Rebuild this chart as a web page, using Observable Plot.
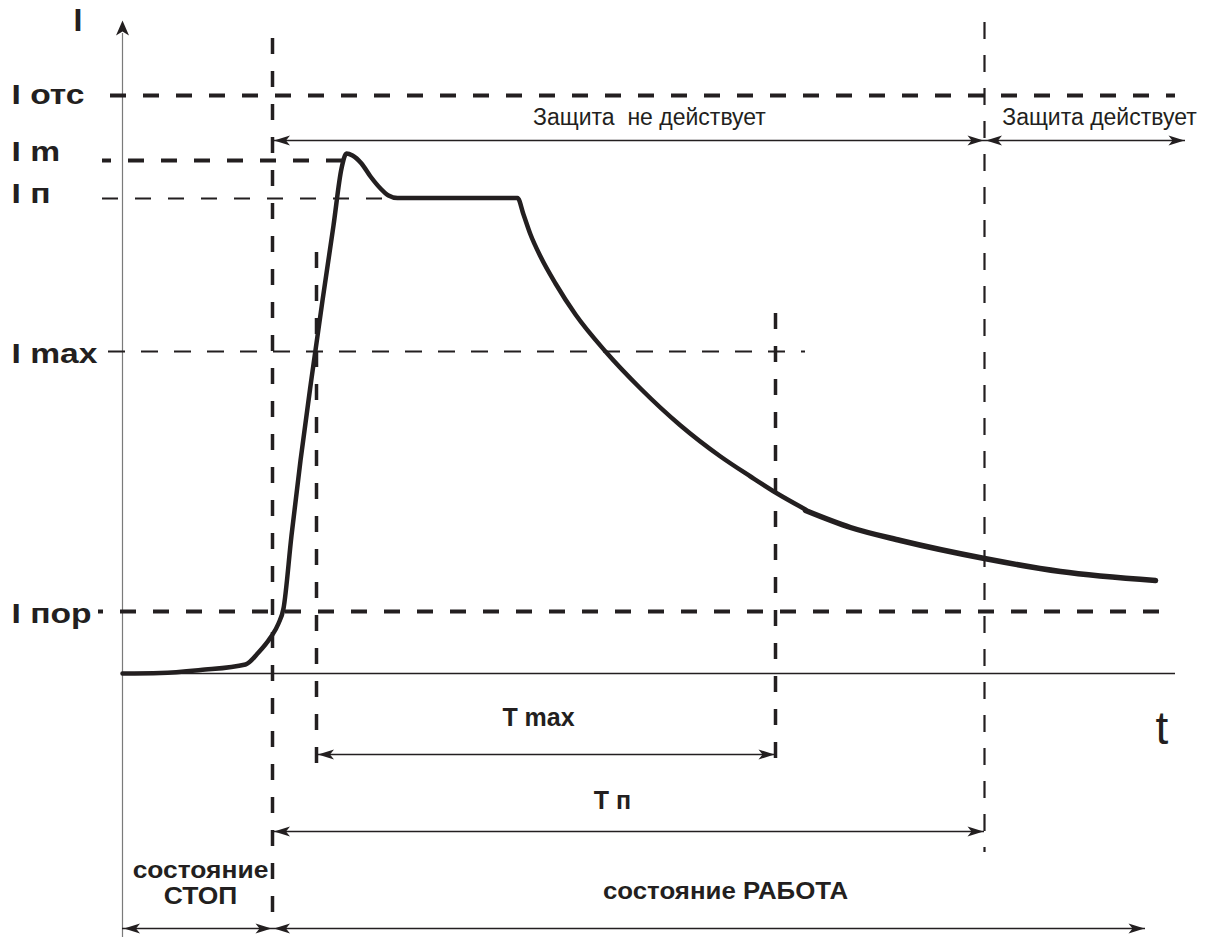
<!DOCTYPE html>
<html><head><meta charset="utf-8">
<script src="https://cdn.jsdelivr.net/npm/d3@7"></script>
<script src="https://cdn.jsdelivr.net/npm/@observablehq/plot@0.6"></script>
<style>body{margin:0;background:#fff} #chart{width:1210px;height:940px}</style>
</head><body><div id="chart"></div>
<script>
// ---- data (t in arbitrary time units, I in arbitrary current units) ----
const levelNames  = ["I отс", "I m", "I п", "I max", "I пор"];
const levelValues = [57.8, 51.3, 47.5, 32.2, 6.2];
const levelFrom   = [-1.2, -2.0, -2.0, -1.4, -2.4];
const levelTo     = [105.3, 22.3, 27.3, 68.3, 103.8];

const timeNames  = ["пуск", "t max старт", "t max конец", "t п конец"];
const timeValues = [15.0, 19.4, 65.3, 86.2];
const timeFrom   = [63.5, 42.1, 36.0, 65.1];
const timeTo     = [-25.2, -10.2, -9.9, -17.9];

// current curve: start + rise + peak + plateau + decay
const rampT = [0, 3.8, 7.8, 12.3, 13.6, 14.8, 15.6, 16.1, 16.9, 17.8, 18.9, 20.0, 21.1, 21.9, 22.4, 23.0, 23.9, 24.8, 25.8, 26.6, 27.5, 32.8, 39.5, 40.1, 40.8, 41.8, 43.3, 45.3, 48.3, 51.8, 55.8, 59.8, 62.8, 65.3, 68.3];
const rampI = [0, 0.05, 0.35, 0.9, 2.1, 3.6, 5.0, 6.5, 13.8, 21.3, 29.5, 37.3, 44.8, 50.5, 52.0, 51.8, 51.0, 49.7, 48.5, 47.8, 47.55, 47.55, 47.55, 45.9, 43.9, 41.7, 39.0, 35.9, 32.2, 28.5, 24.8, 21.7, 19.7, 18.1, 16.4];
// tail after T max
const tailT = [68.3, 72.8, 77.8, 86.2, 93.8, 103.3];
const tailI = [16.3, 14.6, 13.3, 11.5, 10.2, 9.3];

// dimension arrows
const spanNames = ["Защита  не действует", "Защита действует", "T max", "T п", "состояние\nСТОП", "состояние РАБОТА"];
const spanFrom  = [15.0, 86.2, 19.4, 15.0, 0, 15.0];
const spanTo    = [86.2, 106.3, 65.3, 86.2, 15.0, 102.3];
const spanLevel = [53.3, 53.3, -8.1, -15.8, -25.5, -25.5];
const spanLabelT = [52.7, 97.7, 41.6, 49.0, 7.8, 60.3];
const spanLabelI = [54.9, 54.9, -5.2, -13.5, -23.0, -22.5];

// axis labels
const axisLabels = ["I", "t"];
const axisLabelT = [-4.9, 103.3];
const axisLabelI = [64.3, -7.0];
const levelLabelT = -11.1;

// ---- build tables ----
const ink = "#231f20";
const levels = levelNames.map((name, i) => ({name, I: levelValues[i], t1: levelFrom[i], t2: levelTo[i]}));
const times = timeNames.map((name, i) => ({name, t: timeValues[i], i1: timeFrom[i], i2: timeTo[i]}));
const ramp = rampT.map((t, i) => ({t, I: rampI[i]}));
const tail = tailT.map((t, i) => ({t, I: tailI[i]}));
const spans = spanNames.map((name, i) => ({name, t1: spanFrom[i], t2: spanTo[i], I: spanLevel[i], lt: spanLabelT[i], li: spanLabelI[i]}));

const arrowRight = {draw(c) { c.moveTo(0, 0); c.lineTo(-16, -5); c.lineTo(-12, 0); c.lineTo(-16, 5); c.closePath(); }};
const arrowLeft  = {draw(c) { c.moveTo(0, 0); c.lineTo(16, -5); c.lineTo(12, 0); c.lineTo(16, 5); c.closePath(); }};
const arrowUp    = {draw(c) { c.moveTo(0, 0); c.lineTo(-6.5, 15); c.lineTo(0, 11); c.lineTo(6.5, 15); c.closePath(); }};

// dashed guide styles per line
const levelStyle = [
  {w: 3.8, dash: "16,17", off: 0},
  {w: 3.8, dash: "16,17", off: 7},
  {w: 2.2, dash: "16,17", off: 0},
  {w: 2.2, dash: "17,16", off: 0},
  {w: 3.8, dash: "16,17", off: 11}
];
const timeStyle = [
  {w: 3.5, dash: "16,17", off: 0},
  {w: 3.5, dash: "16,17", off: 0},
  {w: 3.5, dash: "16,17", off: 0},
  {w: 2.2, dash: "17,16", off: 0}
];

const marks = [];
// axes
marks.push(Plot.ruleX([0], {x: d => d, y1: 64.0, y2: -26.4, stroke: "#7a7a7a", strokeWidth: 1.2}));
marks.push(Plot.ruleY([0], {y: d => d, x1: 0, x2: 105.3, stroke: ink, strokeWidth: 1.6}));
marks.push(Plot.dot([{t: 0, I: 65.3}], {x: "t", y: "I", symbol: arrowUp, fill: ink, stroke: "none"}));

// guides
levels.forEach((d, i) => marks.push(Plot.ruleY([d], {y: "I", x1: "t1", x2: "t2", stroke: ink, strokeWidth: levelStyle[i].w, strokeDasharray: levelStyle[i].dash, strokeDashoffset: levelStyle[i].off})));
times.forEach((d, i) => marks.push(Plot.ruleX([d], {x: "t", y1: "i1", y2: "i2", stroke: ink, strokeWidth: timeStyle[i].w, strokeDasharray: timeStyle[i].dash, strokeDashoffset: timeStyle[i].off})));

// curve
marks.push(Plot.line(ramp, {x: "t", y: "I", curve: "monotone-x", stroke: ink, strokeWidth: 4.5, strokeLinejoin: "round"}));
marks.push(Plot.line(tail, {x: "t", y: "I", curve: "monotone-x", stroke: ink, strokeWidth: 5.5, strokeLinejoin: "round"}));

// dimension arrows
marks.push(Plot.ruleY(spans, {y: "I", x1: "t1", x2: "t2", stroke: ink, strokeWidth: 1.3}));
marks.push(Plot.dot(spans, {x: "t1", y: "I", symbol: arrowLeft, fill: ink, stroke: "none", dx: 1.5}));
marks.push(Plot.dot(spans, {x: "t2", y: "I", symbol: arrowRight, fill: ink, stroke: "none", dx: -1}));

// span labels
const spanFont = [23, 23, 25, 25, 24, 23.5];
const spanBold = [400, 400, 700, 700, 700, 700];
spans.forEach((d, i) => marks.push(Plot.text([d], {x: "lt", y: "li", text: "name", fontSize: spanFont[i], fontWeight: spanBold[i], fill: ink, textAnchor: "middle", lineAnchor: "bottom", lineHeight: 1.08})));

// level labels
const levelDy = [0, -8, -4, 3, 3];
levels.forEach((d, i) => marks.push(Plot.text([d], {x: () => levelLabelT, y: "I", text: "name", fontSize: 28, fontWeight: 700, fill: ink, textAnchor: "start", lineAnchor: "middle", dy: levelDy[i]})));

// axis labels
marks.push(Plot.text([0], {x: () => axisLabelT[0], y: () => axisLabelI[0], text: () => axisLabels[0], fontSize: 32, fontWeight: 700, fill: ink, textAnchor: "start", lineAnchor: "bottom"}));
marks.push(Plot.text([0], {x: () => axisLabelT[1], y: () => axisLabelI[1], text: () => axisLabels[1], fontSize: 46, fontWeight: 400, fill: ink, textAnchor: "start", lineAnchor: "bottom"}));

const chart = Plot.plot({
  width: 1210, height: 940,
  marginLeft: 122, marginRight: 38, marginTop: 20, marginBottom: 267,
  x: {domain: [0, 105], axis: null},
  y: {domain: [0, 65.3], axis: null},
  style: {background: "white", fontFamily: "Arial, 'Liberation Sans', sans-serif", overflow: "visible"},
  marks
});

// horizontal stretch of the wide-set bold labels around their own anchor
const stretchOf = new Map();
levelNames.forEach(n => stretchOf.set(n, 1.2));
stretchOf.set("состояниеСТОП", 1.1);
stretchOf.set("состояние РАБОТА", 1.1);
chart.querySelectorAll("text").forEach(t => {
  const k = stretchOf.get(t.textContent);
  if (!k) return;
  let tr = t.getAttribute("transform") || "";
  const x = t.getAttribute("x"), y = t.getAttribute("y");
  if (!/translate/.test(tr)) {
    tr = `translate(${x || 0},${y || 0}) ` + tr;
    t.removeAttribute("x"); t.removeAttribute("y");
  }
  t.setAttribute("transform", tr + ` scale(${k},1)`);
});
document.getElementById("chart").appendChild(chart);
</script></body></html>
